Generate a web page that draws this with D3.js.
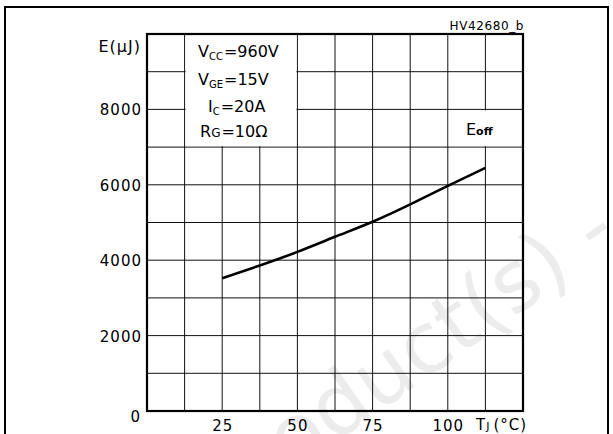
<!DOCTYPE html>
<html>
<head>
<meta charset="utf-8">
<script src="https://cdn.jsdelivr.net/npm/d3@7"></script>
<style>
    body { margin: 0; background: #fff; }
    svg text { font-family: "DejaVu Sans", sans-serif; fill: #000; }
</style>
</head>
<body>
<div id="chart"></div>
<script>
// values
const tempC = [25, 37.5, 50, 62.5, 75, 87.5, 100, 112.5]
const eoffUJ = [3520, 3860, 4220, 4620, 5020, 5480, 5970, 6450]
const yTicks = [0, 2000, 4000, 6000, 8000]
const xTicks = [25, 50, 75, 100]
const xGrid = [12.5, 25, 37.5, 50, 62.5, 75, 87.5, 100, 112.5]
const yGrid = [1000, 2000, 3000, 4000, 5000, 6000, 7000, 8000, 9000]
const legendLines = [["V", "CC", "=960V"], ["V", "GE", "=15V"], ["I", "C", "=20A"], ["R", "G", "=10Ω"]]
const figId = "HV42680_b"
const watermark = "Obsolete Product(s) - Obsolete Product(s)"

const W = 613, H = 434
const margin = { left: 147, right: 90, top: 34, bottom: 23 }

const svg = d3.select("#chart").append("svg")
    .attr("width", W).attr("height", H)

// faint watermark behind the chart
svg.append("text")
    .attr("transform", "translate(-104,750) rotate(-35)")
    .attr("font-size", 84)
    .style("fill", "#ececec")
    .text(watermark)

// outer border (runs off the bottom)
svg.append("rect")
    .attr("x", 5).attr("y", 7)
    .attr("width", 603).attr("height", 460)
    .attr("fill", "none").attr("stroke", "#000").attr("stroke-width", 2)

const x = d3.scaleLinear().domain([0, 125]).range([margin.left, W - margin.right])
const y = d3.scaleLinear().domain([0, 10000]).range([H - margin.bottom, margin.top])

// grid
const grid = svg.append("g").attr("stroke", "#111").attr("stroke-width", 1)
grid.selectAll(".gx").data(xGrid).join("line")
    .attr("x1", d => x(d)).attr("x2", d => x(d))
    .attr("y1", y(0)).attr("y2", y(10000))
grid.selectAll(".gy").data(yGrid).join("line")
    .attr("x1", x(0)).attr("x2", x(125))
    .attr("y1", d => y(d)).attr("y2", d => y(d))

// white boxes for the condition legend and the curve label
svg.append("rect")
    .attr("x", x(12.5) + 1).attr("y", y(10000))
    .attr("width", x(50) - x(12.5) - 2).attr("height", y(7000) - y(10000) - 1)
    .attr("fill", "#fff")
svg.append("rect")
    .attr("x", x(100) + 1).attr("y", y(8000) + 1)
    .attr("width", x(125) - x(100) - 2).attr("height", y(7000) - y(8000) - 2)
    .attr("fill", "#fff")

// frame
svg.append("rect")
    .attr("x", x(0)).attr("y", y(10000))
    .attr("width", x(125) - x(0)).attr("height", y(0) - y(10000))
    .attr("fill", "none").attr("stroke", "#000").attr("stroke-width", 2.2)

// axes: labels only, the frame does the lines
const axisY = svg.append("g")
    .attr("transform", `translate(${x(0)},0)`)
    .call(d3.axisLeft(y).tickValues(yTicks).tickSize(0).tickPadding(6).tickFormat(d3.format("d")))
axisY.select(".domain").remove()
axisY.selectAll("text")
    .attr("font-size", 15).attr("letter-spacing", 1)
    .attr("font-family", "DejaVu Sans")
    .attr("dy", d => d === 0 ? "0.7em" : "0.36em")
    .attr("x", d => d === 0 ? -6 : -5)

const axisX = svg.append("g")
    .attr("transform", `translate(0,${y(0)})`)
    .call(d3.axisBottom(x).tickValues(xTicks).tickSize(0).tickPadding(9).tickFormat(d3.format("d")))
axisX.select(".domain").remove()
axisX.selectAll("text")
    .attr("font-size", 15).attr("letter-spacing", 1)
    .attr("font-family", "DejaVu Sans")

// axis titles
svg.append("text")
    .attr("x", 141).attr("y", 52)
    .attr("text-anchor", "end")
    .attr("font-size", 16).attr("letter-spacing", 1)
    .text("E(μJ)")

const tj = svg.append("text")
    .attr("x", 476).attr("y", 430)
    .attr("font-size", 15).attr("letter-spacing", 1)
tj.append("tspan").text("T")
tj.append("tspan").attr("font-size", 11).text("J")
tj.append("tspan").attr("dx", 3).text("(°C)")

svg.append("text")
    .attr("x", 524).attr("y", 30)
    .attr("text-anchor", "end")
    .attr("font-size", 12).attr("letter-spacing", 0.6)
    .text(figId)

// conditions legend
const legendX = [198, 198, 208, 200]
const legendY = [57, 85, 112, 137]
legendLines.forEach((parts, i) => {
    const t = svg.append("text")
        .attr("x", legendX[i]).attr("y", legendY[i])
        .attr("font-size", 16)
    t.append("tspan").text(parts[0])
    t.append("tspan").attr("font-size", i === 3 ? 12 : 10)
        .attr("dy", i === 3 ? 0 : 3).text(parts[1])
    t.append("tspan").attr("dy", i === 3 ? 0 : -3).attr("dx", 1).text(parts[2])
})

// curve label
const lbl = svg.append("text")
    .attr("x", 466).attr("y", 135)
    .attr("font-size", 16)
lbl.append("tspan").text("E")
lbl.append("tspan").attr("font-size", 11).attr("font-weight", "bold").text("off")

// the curve
const line = d3.line()
    .x((d, i) => x(tempC[i]))
    .y(d => y(d))
    .curve(d3.curveNatural)
svg.append("path")
    .datum(eoffUJ)
    .attr("d", line)
    .attr("fill", "none")
    .attr("stroke", "#000")
    .attr("stroke-width", 2.6)
</script>
</body>
</html>
